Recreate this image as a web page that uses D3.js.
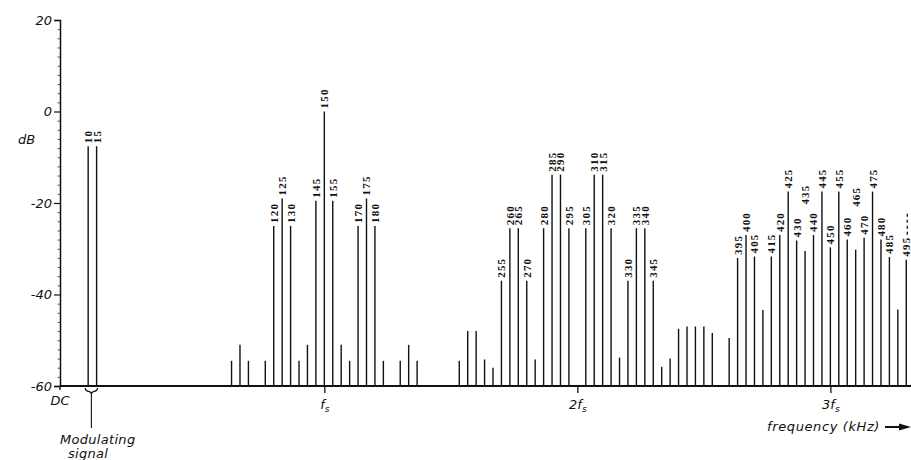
<!DOCTYPE html>
<html>
<head>
<meta charset="utf-8">
<script src="https://cdn.jsdelivr.net/npm/d3@7/dist/d3.min.js"></script>
<style>
  html, body { margin: 0; padding: 0; background: #fff; }
  svg { display: block; }
  .ax { font-family: "DejaVu Sans", sans-serif; font-style: italic; font-size: 13px; fill: #111; }
  .lbl { font-family: "Liberation Serif", serif; font-weight: bold; font-size: 11px; letter-spacing: 1.2px; fill: #111; }
</style>
</head>
<body>
<script>
// ---- data (frequency in kHz, level in dB) ----
const freqs = [10, 15,
  95, 100, 105, 115, 120, 125, 130, 135, 140, 145, 150, 155, 160, 165, 170, 175, 180, 185, 195, 200, 205,
  230, 235, 240, 245, 250, 255, 260, 265, 270, 275, 280, 285, 290, 295, 305, 310, 315, 320, 325, 330, 335, 340, 345, 350, 355, 360, 365,
  370, 375, 380, 390, 395, 400, 405, 410, 415, 420, 425, 430, 435, 440, 445, 450, 455, 460, 465, 470, 475, 480, 485, 490, 495];
const levels = [-7.6, -7.6,
  -54.5, -51, -54.5, -54.5, -25, -19, -25, -54.5, -51, -19.5, 0, -19.5, -51, -54.5, -25, -19, -25, -54.5, -54.5, -51, -54.5,
  -54.5, -48, -48, -54.2, -56, -37, -25.5, -25.5, -37, -54.2, -25.5, -13.8, -13.8, -25.5, -25.5, -13.8, -13.8, -25.5, -53.8, -37, -25.5, -25.5, -37, -55.8, -54, -47.5, -47,
  -47, -47, -48.4, -49.5, -32, -27, -31.7, -43.4, -31.7, -27, -17.5, -28.2, -30.5, -27, -17.5, -29.7, -17.5, -28, -30.2, -27.6, -17.5, -28, -31.8, -43.3, -32.4];
const labeledFreqs = [10, 15, 120, 125, 130, 145, 150, 155, 170, 175, 180,
  255, 260, 265, 270, 280, 285, 290, 295, 305, 310, 315, 320, 330, 335, 340, 345,
  395, 400, 405, 415, 420, 425, 430, 435, 440, 445, 450, 455, 460, 465, 470, 475, 480, 485, 495];
const yTickValues = [20, 0, -20, -40, -60];
const xTickValues = [150, 300, 450];
const xTickLabels = ["f", "2f", "3f"];

// ---- layout ----
const W = 911, H = 460;
const svg = d3.select("body").append("svg").attr("width", W).attr("height", H);

const x = d3.scaleLinear().domain([-6.7, 497.8]).range([60, 911]);
const y = d3.scaleLinear().domain([-60, 20]).range([386, 20]);

const ink = "#111";
const data = freqs.map((f, i) => ({ f, v: levels[i] }));
const byF = new Map(data.map(d => [d.f, d.v]));

// spectral lines
svg.append("g").selectAll("line").data(data).join("line")
  .attr("x1", d => x(d.f)).attr("x2", d => x(d.f))
  .attr("y1", y(-60)).attr("y2", d => y(d.v))
  .attr("stroke", ink).attr("stroke-width", 1.4);

// labels (staggered ones are lifted above neighbours)
const labelLift = { 435: -21, 465: -21.5 };
const labelPos = f => y(labelLift[f] !== undefined ? labelLift[f] : byF.get(f)) - 3;
svg.append("g").selectAll("text").data(labeledFreqs).join("text")
  .attr("class", "lbl")
  .attr("transform", f => `translate(${x(f)},${labelPos(f)}) rotate(-90)`)
  .attr("dy", "0.36em")
  .attr("text-anchor", "start")
  .text(f => String(f));
// continuation dashes after the last label
const lastF = labeledFreqs[labeledFreqs.length - 1];
svg.append("line")
  .attr("x1", x(lastF) + 1).attr("x2", x(lastF) + 1)
  .attr("y1", labelPos(lastF) - 22).attr("y2", labelPos(lastF) - 44)
  .attr("stroke", ink).attr("stroke-width", 1.3).attr("stroke-dasharray", "3,3");

// y axis
const yAxis = d3.axisLeft(y).tickValues(yTickValues).tickSize(6).tickPadding(2).tickFormat(d => d);
const gy = svg.append("g").attr("transform", `translate(${x(-6.7)},0)`).call(yAxis);
gy.select(".domain").attr("stroke", ink).attr("stroke-width", 1.5);
gy.selectAll(".tick line").attr("stroke", ink).attr("stroke-width", 1.2);
gy.selectAll(".tick text").attr("class", "ax").attr("font-family", null).attr("font-size", null).attr("fill", ink);
// minor ticks
const minor = d3.range(-58, 20, 2).filter(v => v % 20 !== 0);
const gm = svg.append("g").attr("transform", `translate(${x(-6.7)},0)`)
  .call(d3.axisLeft(y).tickValues(minor).tickSize(2.5).tickFormat(""));
gm.select(".domain").remove();
gm.selectAll(".tick line").attr("stroke", ink).attr("stroke-width", 1).attr("opacity", 0.7);

// x axis
const xAxis = d3.axisBottom(x).tickValues(xTickValues).tickSize(7).tickPadding(5).tickFormat("");
const gx = svg.append("g").attr("transform", `translate(0,${y(-60)})`).call(xAxis);
gx.select(".domain").attr("stroke", ink).attr("stroke-width", 2).attr("d", `M${x(-6.7)},0H${W}`);
gx.selectAll(".tick line").attr("stroke", ink).attr("stroke-width", 1.3);
gx.selectAll(".tick").each(function (d, i) {
  const t = d3.select(this).append("text").attr("class", "ax").attr("y", 23).attr("text-anchor", "middle");
  t.append("tspan").text(xTickLabels[i]);
  t.append("tspan").attr("font-size", 9).attr("dy", 3).text("s");
});
// small tick at origin
svg.append("line").attr("x1", x(-6.7)).attr("x2", x(-6.7)).attr("y1", y(-60)).attr("y2", y(-60) + 4)
  .attr("stroke", ink).attr("stroke-width", 1.3);

// axis texts
svg.append("text").attr("class", "ax").attr("x", x(-6.7)).attr("y", 405).attr("text-anchor", "middle").text("DC");
svg.append("text").attr("class", "ax").attr("x", 18).attr("y", 144).text("dB");
svg.append("text").attr("class", "ax").attr("x", 880).attr("y", 431).attr("text-anchor", "end")
  .attr("letter-spacing", "0.6px").text("frequency (kHz)");
// arrow
svg.append("line").attr("x1", 885).attr("x2", 903).attr("y1", 427).attr("y2", 427).attr("stroke", ink).attr("stroke-width", 2);
svg.append("path").attr("d", "M899,423.5L911,427L899,430.5Z").attr("fill", ink);

// modulating signal brace
const bx1 = x(10) - 3, bx2 = x(15) + 1, bm = (bx1 + bx2) / 2, by = y(-60) + 2;
const p = d3.path();
p.moveTo(bx1, by);
p.bezierCurveTo(bx1, by + 5, bm, by + 2, bm, by + 6);
p.bezierCurveTo(bm, by + 2, bx2, by + 5, bx2, by);
svg.append("path").attr("d", p.toString()).attr("fill", "none").attr("stroke", ink).attr("stroke-width", 1.2);
svg.append("line").attr("x1", bm).attr("x2", bm).attr("y1", by + 6).attr("y2", 428).attr("stroke", ink).attr("stroke-width", 1.1);
svg.append("text").attr("class", "ax").attr("x", 60).attr("y", 444).attr("letter-spacing", "0.3px").text("Modulating");
svg.append("text").attr("class", "ax").attr("x", 68).attr("y", 458).attr("letter-spacing", "0.3px").text("signal");
</script>
</body>
</html>
